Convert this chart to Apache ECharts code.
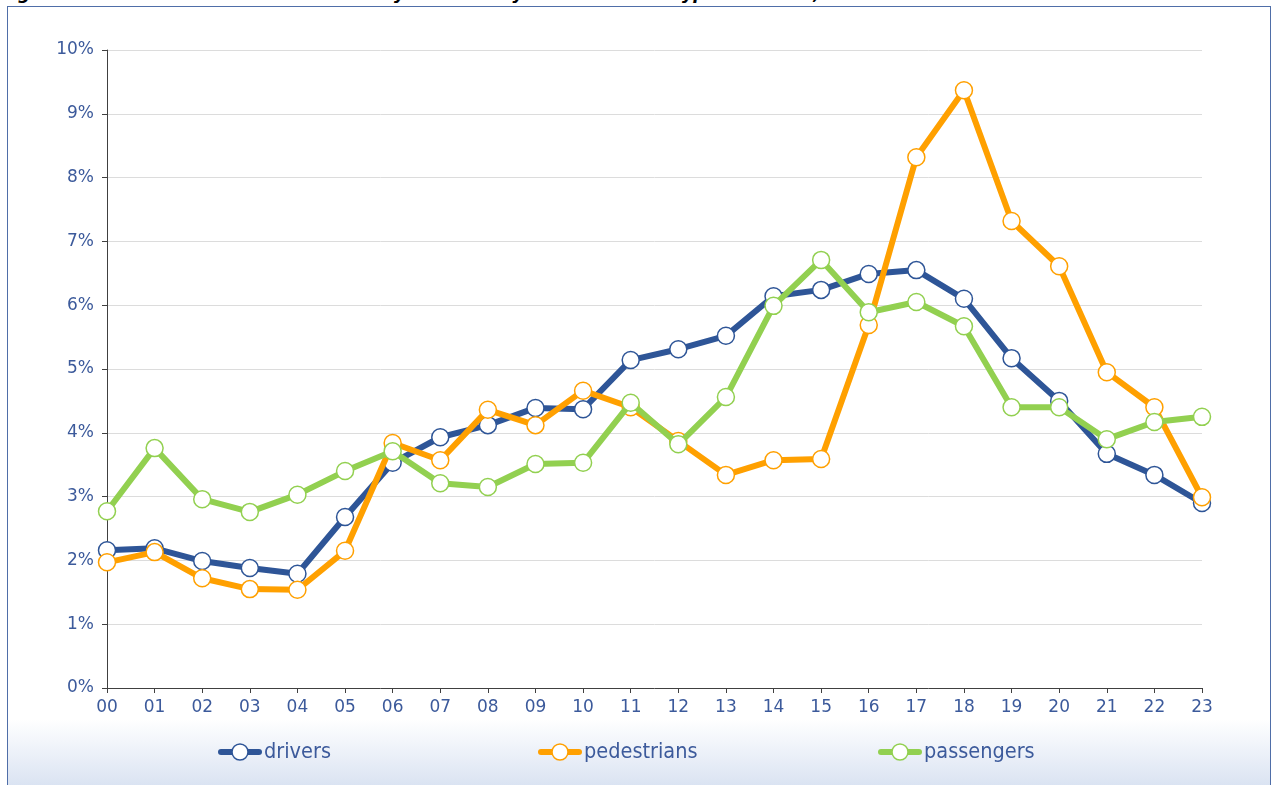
<!DOCTYPE html>
<html>
<head>
<meta charset="utf-8">
<script src="https://cdn.jsdelivr.net/npm/echarts@6/dist/echarts.min.js"></script>
<style>
html,body{margin:0;padding:0;background:#fff;}
#wrap{position:absolute;left:0;top:0;width:1272px;height:785px;overflow:hidden;}
#frame{position:absolute;left:7px;top:6px;width:1264px;height:790px;border:1px solid #4f6ea8;box-sizing:border-box;
background:linear-gradient(to bottom,#ffffff 0px,#ffffff 712px,#dae3f2 779px);}
#title{position:absolute;left:0px;top:-17px;font:italic bold 17.5px "DejaVu Sans";color:#000;white-space:pre;}
#chart{position:absolute;left:0;top:0;width:1272px;height:785px;}
</style>
</head>
<body>
<div id="wrap">
<div id="frame"></div>
<div id="title">Figure 23:      Distribution of fatalities by hour of day and road user type in the EU, 2015</div>
<div id="chart"></div>
</div>
<script>
const hours = ['00','01','02','03','04','05','06','07','08','09','10','11','12','13','14','15','16','17','18','19','20','21','22','23'];
const drivers = [2.16,2.19,1.99,1.88,1.79,2.68,3.53,3.93,4.12,4.39,4.37,5.14,5.31,5.52,6.14,6.24,6.49,6.55,6.10,5.17,4.50,3.67,3.34,2.90];
const pedestrians = [1.97,2.13,1.72,1.55,1.54,2.15,3.84,3.57,4.36,4.12,4.66,4.40,3.87,3.34,3.57,3.59,5.69,8.32,9.37,7.32,6.61,4.95,4.40,2.99];
const passengers = [2.77,3.76,2.96,2.76,3.03,3.40,3.71,3.21,3.15,3.51,3.53,4.47,3.82,4.56,5.99,6.71,5.89,6.05,5.67,4.40,4.40,3.90,4.17,4.25];
const seriesNames = ['drivers','pedestrians','passengers'];
const colors = ['#2e5597','#ffa000','#92d050'];

const chart = echarts.init(document.getElementById('chart'), null, {renderer:'canvas'});
const dataSets = [drivers, pedestrians, passengers];
const legendLefts = [218, 538, 878];
const axisColor = '#3c5a9b';
chart.setOption({
  backgroundColor: 'transparent',
  animation: false,
  grid: {left:107, right:70, top:50, bottom:97},
  xAxis: {
    type:'category', data:hours, boundaryGap:false,
    axisLine:{lineStyle:{color:'#404040', width:1}},
    axisTick:{show:true, alignWithLabel:true, length:5, lineStyle:{color:'#404040'}},
    axisLabel:{color:axisColor, fontSize:17, fontFamily:'DejaVu Sans', margin:11},
    splitLine:{show:false}
  },
  yAxis: {
    type:'value', min:0, max:10, interval:1,
    axisLine:{show:true, lineStyle:{color:'#404040', width:1}},
    axisTick:{show:true, length:5, lineStyle:{color:'#404040'}},
    axisLabel:{color:axisColor, fontSize:17, fontFamily:'DejaVu Sans', margin:13, formatter: v => v + '%'},
    splitLine:{show:true, lineStyle:{color:'#dcdcdc', width:1}}
  },
  legend: seriesNames.map((n,i)=>({
    data:[{name:n, lineStyle:{width:6, cap:'round'}, itemStyle:{borderWidth:1.5}}],
    left:legendLefts[i], top:741, padding:0, itemWidth:38, itemHeight:20, itemGap:0,
    textStyle:{color:axisColor, fontSize:21.5, fontFamily:'DejaVu Sans Condensed'}
  })),
  series: seriesNames.map((n,i)=>({
    name:n, type:'line', data:dataSets[i], z:2+i,
    symbol:'circle', symbolSize:17,
    lineStyle:{color:colors[i], width:6},
    itemStyle:{color:'#ffffff', borderColor:colors[i], borderWidth:1.5},
    emphasis:{disabled:true}
  }))
});
</script>
</body>
</html>
